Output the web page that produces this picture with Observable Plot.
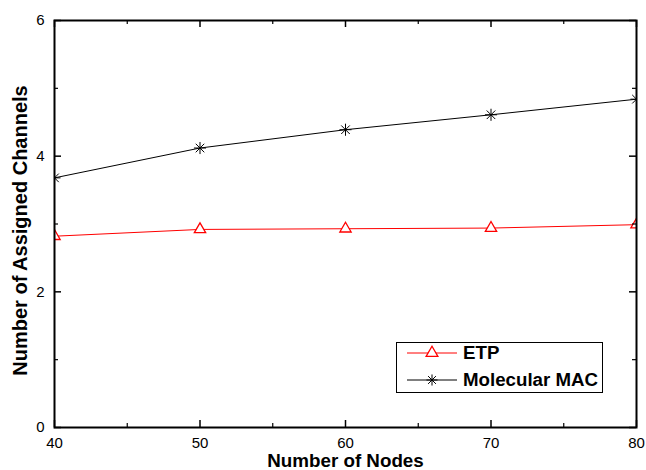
<!DOCTYPE html>
<html>
<head>
<meta charset="utf-8">
<script src="https://cdn.jsdelivr.net/npm/d3@7"></script>
<script src="https://cdn.jsdelivr.net/npm/@observablehq/plot@0.6"></script>
<style>
  body { margin: 0; background: #fff; font-family: "Liberation Sans", Arial, sans-serif; }
  #wrap { position: relative; width: 646px; height: 470px; }
  #legend { position: absolute; left: 396px; top: 342px; width: 207px; height: 51px;
    border: 1px solid #000; background: #fff; box-sizing: border-box; }
  .row { position: absolute; left: 0; height: 20px; display: flex; align-items: center; }
  .row span { font-weight: bold; font-size: 18.7px; margin-left: 6px; color: #000; white-space: nowrap; }
</style>
</head>
<body>
<div id="wrap">
  <div id="chart"></div>
  <div id="legend"></div>
</div>
<script>
const nodes = [40, 50, 60, 70, 80];
const etp = [2.82, 2.92, 2.93, 2.94, 2.99];
const molecularMac = [3.68, 4.12, 4.39, 4.61, 4.84];
const seriesNames = ["ETP", "Molecular MAC"];
const seriesColors = ["#ff0000", "#000000"];
const xMajor = [40, 50, 60, 70, 80];
const xMinor = [45, 55, 65, 75];
const yMajor = [0, 2, 4, 6];
const yMinor = [1, 3, 5];

const star = {
  draw(ctx, size) {
    const r = Math.sqrt(size) * 0.62;
    const d = r * Math.SQRT1_2;
    ctx.moveTo(0, -r); ctx.lineTo(0, r);
    ctx.moveTo(-r, 0); ctx.lineTo(r, 0);
    ctx.moveTo(-d, -d); ctx.lineTo(d, d);
    ctx.moveTo(-d, d); ctx.lineTo(d, -d);
  }
};

const rows = [];
nodes.forEach((n, i) => {
  rows.push({series: seriesNames[0], x: n, y: etp[i]});
  rows.push({series: seriesNames[1], x: n, y: molecularMac[i]});
});
const etpRows = rows.filter(d => d.series === "ETP");
const macRows = rows.filter(d => d.series === "Molecular MAC");

const W = 646, H = 470;
const mt = 20, mb = 43, ml = 54, mr = 10;
const innerH = H - mt - mb;
const innerW = W - ml - mr;
const font = "Liberation Sans, Arial, sans-serif";

const chart = Plot.plot({
  width: W, height: H,
  marginTop: mt, marginBottom: mb, marginLeft: ml, marginRight: mr,
  style: {fontFamily: font, background: "white", color: "black"},
  x: {domain: [40, 80], axis: null},
  y: {domain: [0, 6], axis: null},
  marks: [
    Plot.line(macRows, {x: "x", y: "y", stroke: seriesColors[1], strokeWidth: 1}),
    Plot.line(etpRows, {x: "x", y: "y", stroke: seriesColors[0], strokeWidth: 1}),
    Plot.dot(macRows, {x: "x", y: "y", symbol: star, r: 5.5, stroke: seriesColors[1], strokeWidth: 1, fill: "none", clip: true}),
    Plot.dot(etpRows, {x: "x", y: "y", symbol: "triangle", r: 4.2, stroke: seriesColors[0], strokeWidth: 1.3, fill: "white", clip: true}),
    // ticks bottom/top
    Plot.tickX(xMajor, {x: d => d, stroke: "black", strokeWidth: 1.5, insetTop: innerH - 7}),
    Plot.tickX(xMinor, {x: d => d, stroke: "black", strokeWidth: 1.2, insetTop: innerH - 4}),
    Plot.tickX(xMajor, {x: d => d, stroke: "black", strokeWidth: 1.5, insetBottom: innerH - 7}),
    Plot.tickX(xMinor, {x: d => d, stroke: "black", strokeWidth: 1.2, insetBottom: innerH - 4}),
    // ticks left/right
    Plot.tickY(yMajor, {y: d => d, stroke: "black", strokeWidth: 1.5, insetRight: innerW - 7}),
    Plot.tickY(yMinor, {y: d => d, stroke: "black", strokeWidth: 1.2, insetRight: innerW - 4}),
    Plot.tickY(yMajor, {y: d => d, stroke: "black", strokeWidth: 1.5, insetLeft: innerW - 7}),
    Plot.tickY(yMinor, {y: d => d, stroke: "black", strokeWidth: 1.2, insetLeft: innerW - 4}),
    Plot.frame({stroke: "black", strokeWidth: 2}),
    // tick labels
    Plot.text(xMajor, {x: d => d, frameAnchor: "bottom", dy: 16, text: d => String(d), fontSize: 15, fill: "black", lineAnchor: "middle"}),
    Plot.text(yMajor, {y: d => d, frameAnchor: "left", dx: -10, text: d => String(d), fontSize: 15, fill: "black", textAnchor: "end"}),
    // axis titles
    Plot.text(["Number of Nodes"], {frameAnchor: "bottom", dy: 33.5, text: d => d, fontSize: 18.8, fontWeight: "bold", fill: "black", textAnchor: "middle", lineAnchor: "middle"}),
    Plot.text(["Number of Assigned Channels"], {frameAnchor: "left", dx: -34, dy: 6.5, rotate: -90, text: d => d, fontSize: 20, fontWeight: "bold", fill: "black", textAnchor: "middle", lineAnchor: "middle"})
  ]
});
document.getElementById("chart").appendChild(chart);

// legend
const legend = document.getElementById("legend");
seriesNames.forEach((name, i) => {
  const row = document.createElement("div");
  row.className = "row";
  row.style.top = (i === 0 ? 0 : 27) + "px";
  row.style.left = "10px";
  const svg = d3.create("svg").attr("width", 50).attr("height", 20);
  svg.append("line").attr("x1", 0).attr("x2", 50).attr("y1", 10).attr("y2", 10)
    .attr("stroke", seriesColors[i]).attr("stroke-width", 1);
  const sym = d3.symbol().type(i === 0 ? d3.symbolTriangle : star).size(i === 0 ? 60 : 80);
  svg.append("path").attr("d", sym()).attr("transform", "translate(25,10)")
    .attr("stroke", seriesColors[i]).attr("stroke-width", i === 0 ? 1.3 : 1).attr("fill", i === 0 ? "white" : "none");
  row.appendChild(svg.node());
  const label = document.createElement("span");
  label.textContent = name;
  row.appendChild(label);
  legend.appendChild(row);
});
</script>
</body>
</html>
